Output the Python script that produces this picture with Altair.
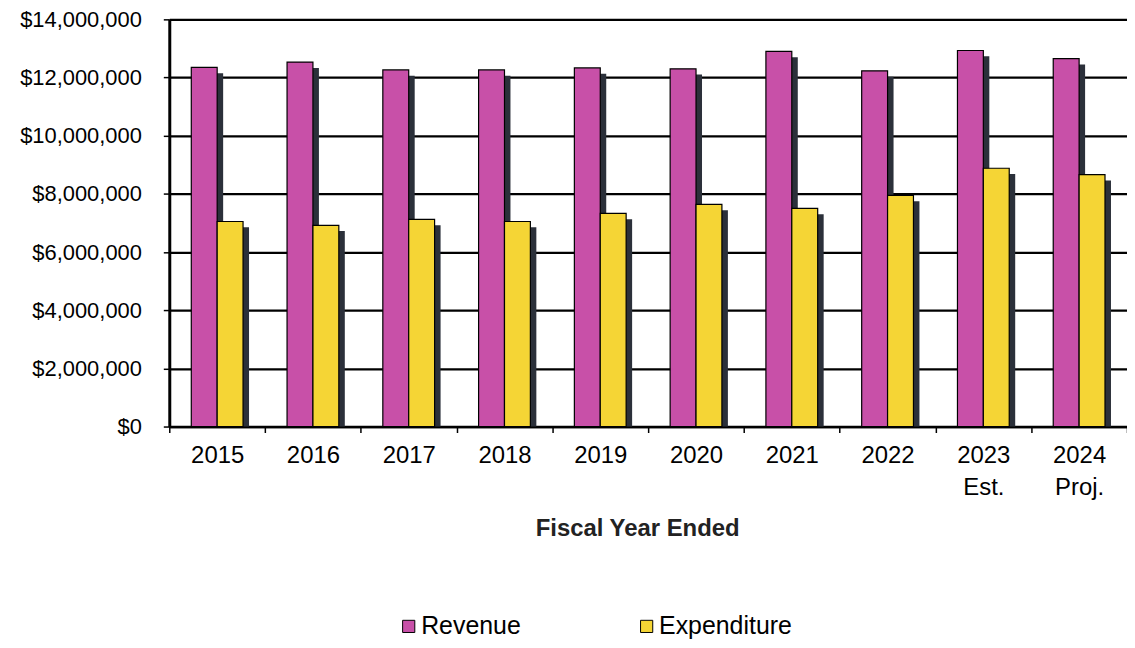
import altair as alt
import pandas as pd

years = ["2015", "2016", "2017", "2018", "2019", "2020", "2021", "2022", "2023|Est.", "2024|Proj."]
revenue = [12350000, 12530000, 12260000, 12260000, 12330000, 12300000, 12900000, 12230000, 12930000, 12650000]
expenditure = [7050000, 6920000, 7120000, 7050000, 7330000, 7640000, 7500000, 7950000, 8880000, 8660000]
series = ["Revenue", "Expenditure"]
colors = ["#C850A8", "#F5D535"]

rows = []
for i, y in enumerate(years):
    rows.append({"year": y, "series": "Revenue", "value": revenue[i]})
    rows.append({"year": y, "series": "Expenditure", "value": expenditure[i]})
df = pd.DataFrame(rows)

FONT = "Liberation Sans"
SHADOW_DROP = 200000  # vertical drop of the 3-D shadow, in value units

x_enc = alt.X(
    "year:N",
    sort=years,
    scale=alt.Scale(paddingInner=0, paddingOuter=0),
    axis=alt.Axis(
        title="Fiscal Year Ended",
        labelAngle=0,
        labelExpr="isValid(datum.value) ? split(datum.value, '|') : ''",
        labelFont=FONT,
        labelFontSize=24,
        labelColor="black",
        labelPadding=11,
        labelLineHeight=32,
        tickBand="extent",
        tickColor="black",
        tickSize=6,
        tickWidth=1.5,
        domainColor="black",
        domainWidth=2.5,
        titleFont=FONT,
        titleFontSize=24,
        titleFontWeight="bold",
        titleColor="#222222",
        titlePadding=17,
        titleX=470,
        grid=False,
    ),
)
y_axis = alt.Axis(
    title=None,
    values=[0, 2000000, 4000000, 6000000, 8000000, 10000000, 12000000, 14000000],
    format="$,.0f",
    labelFont=FONT,
    labelFontSize=22,
    labelColor="black",
    labelPadding=22,
    tickColor="black",
    tickSize=6,
    tickWidth=1.5,
    domainColor="black",
    domainWidth=3,
    gridColor="black",
    gridWidth=2.2,
    gridOpacity=1,
)
y_scale = alt.Scale(domain=[0, 14000000], nice=False)

shadow = (
    alt.Chart(df)
    .transform_calculate(shadow_top=f"max(datum.value - {SHADOW_DROP}, 0)")
    .mark_bar(color="#2B303A")
    .encode(
        x=x_enc,
        xOffset=alt.XOffset(
            "series:N",
            sort=series,
            scale=alt.Scale(paddingOuter=0.85, paddingInner=0, align=0.636),
        ),
        y=alt.Y("shadow_top:Q", scale=y_scale, axis=y_axis),
    )
)

bars = alt.Chart(df).mark_bar(stroke="black", strokeWidth=1.2).encode(
    x=x_enc,
    xOffset=alt.XOffset(
        "series:N",
        sort=series,
        scale=alt.Scale(paddingOuter=0.85, paddingInner=0),
    ),
    y=alt.Y("value:Q", scale=y_scale, axis=y_axis),
    color=alt.Color(
        "series:N",
        sort=series,
        scale=alt.Scale(domain=series, range=colors),
        legend=alt.Legend(
            title=None,
            orient="none",
            legendX=228,
            legendY=597,
            direction="horizontal",
            symbolType="square",
            symbolSize=150,
            symbolStrokeColor="black",
            symbolStrokeWidth=1,
            symbolOpacity=1,
            labelFont=FONT,
            labelFontSize=25,
            labelColor="black",
            labelOffset=0,
            columnPadding=113,
        ),
    ),
)

chart = (
    alt.layer(shadow, bars)
    .resolve_scale(xOffset="independent")
    .properties(
        width=962,
        height=409,
        autosize=alt.AutoSizeParams(type="none"),
        padding={"left": 162, "top": 10, "right": 0, "bottom": 213},
    )
    .configure_view(stroke=None)
    .configure(background="white")
)

chart.save("out.html", embed_options={"renderer": "svg", "actions": False})
